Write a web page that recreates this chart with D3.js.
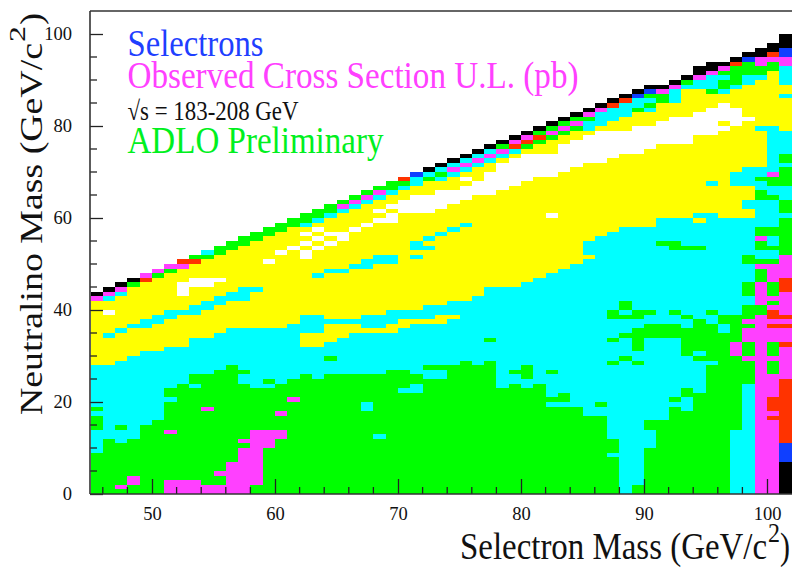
<!DOCTYPE html>
<html>
<head>
<meta charset="utf-8">
<script src="https://cdn.jsdelivr.net/npm/d3@7"></script>
<style>
  html, body { margin: 0; background: #fff; }
  svg { display: block; font-family: "Liberation Serif", serif; }
</style>
</head>
<body>
<div id="chart"></div>
<script>
// selectron mass bins, one GeV wide, 45 to 101
const selectronMass = [45,46,47,48,49,50,51,52,53,54,55,56,57,58,59,60,61,62,63,64,65,66,67,68,69,
  70,71,72,73,74,75,76,77,78,79,80,81,82,83,84,85,86,87,88,89,90,91,92,93,94,95,96,97,98,99,100,101]

// each entry is one mass column, read bottom to top: level letter + neutralino mass where it stops
const columnRuns = [
  'g9 c14 g17 c18 g19 c28 y42 m43 k44',
  'g12 c28 y34 c35 y39 w40 y42 c43 m44 k45',
  'g1 m2 g11 c14 g15 c29 y35 c36 y43 c44 m45 k46',
  'g2 m4 g12 c30 y36 c37 y45 g46 k47',
  'g15 c31 y36 c38 y46 r47 m48',
  'g16 c31 y37 c39 y47 g48 m49',
  'm3 g13 m14 g20 c21 g23 c32 y38 c40 y48 g49 m50',
  'm3 g24 c32 y39 c40 y43 w46 y49 m50 r51',
  'm3 g23 c24 g26 c34 y39 c41 y45 w47 y50 r51 g52',
  'm2 g18 m19 g26 c34 y40 c42 y45 w47 y51 g52 c53',
  'm2 g4 m5 g27 c35 y41 c43 y46 w47 y52 g54',
  'm7 g28 c36 y42 c44 y53 g55',
  'm10 g11 m12 g24 c26 g27 c36 y42 c45 y54 g56',
  'g2 m14 g23 c36 y44 c45 y55 g57',
  'g10 m14 g23 c24 g25 c36 y50 w51 y56 g58',
  'g12 m14 g17 m18 g24 c36 y52 w53 y57 g59',
  'g20 m21 g25 c37 y53 w54 y58 g60',
  'g26 c32 y35 c39 y51 w53 y54 w55 y56 w57 y58 c59 g61',
  'g25 c32 y35 c39 y47 c48 y53 w54 y55 w56 y57 w58 y59 c60 g62',
  'g26 c29 g30 c33 y37 c38 y48 c49 y54 w55 y56 w57 y60 c61 g63',
  'g26 c34 y37 c38 y48 c49 y55 w57 y61 c62 m63 g64',
  'g26 c35 y37 c38 y49 c50 y57 w58 y62 c63 m64 g65',
  'g18 c20 g26 c35 y36 c39 y49 c51 y58 w59 y63 c64 m65 g66',
  'g12 c13 g26 c35 y36 c39 y50 c52 y59 w60 y61 w62 y64 c65 m66 g67',
  'g27 c35 y37 c40 y50 c52 y59 w61 y62 w63 y65 c66 g68',
  'g22 c23 g27 c36 y38 c40 y61 w64 y66 c67 g68 r69',
  'g22 c24 g26 c37 y38 c40 y51 c52 y53 c55 y61 w65 y67 c69 b70',
  'g25 c27 g28 c37 y38 c41 y53 c54 y55 c56 y61 w65 y68 g69 c70 k71',
  'g25 c27 g28 c37 y39 c41 y56 c57 y62 w66 y68 c69 g70 c71 k72',
  'g28 c38 y39 c42 y57 c58 y63 w66 y69 c70 m71 c72 k73',
  'g29 c42 y58 c59 y64 w67 y68 w69 y70 c71 m72 c73 k74',
  'g28 c43 y65 w68 y71 c72 m73 c74 k75',
  'g29 c33 g34 c45 y65 w70 y72 c73 m74 c75 k76',
  'g23 c45 y66 w72 y73 c74 m75 g76 k77',
  'g24 c26 g27 c45 y67 w73 y74 c75 r76 m77 k78',
  'g23 c25 g28 c46 y68 w74 y75 g76 r77 m78 k79',
  'g24 c47 y69 w74 y76 g77 r78 g79 k80',
  'g19 c20 g21 c26 g27 c48 y60 w61 y69 w74 y77 g78 m79 g80 k81',
  'g19 c20 g22 c49 y70 w76 y78 g79 m80 g81 k82',
  'g19 c50 y71 w77 y79 g80 m81 g82 k83',
  'g17 c51 y52 c55 y72 w78 y79 c81 g82 m83 k84',
  'g17 c19 g20 c56 y72 w79 y80 c83 m84 k85',
  'g8 c9 g12 c28 g29 c33 g34 c38 g40 c57 y73 w79 y81 c84 r85 k86',
  'c29 g30 c34 g35 c38 g39 c40 g42 c58 y74 w79 y82 c85 r86 k87',
  'g2 c28 g29 c31 g36 c38 g40 c58 y74 w80 y83 g84 c86 b87 k88',
  'g10 c14 g16 c34 g37 c39 g40 c58 y75 w80 y83 c84 g85 c86 g87 b88 k89',
  'g16 c34 g37 c54 g55 c60 y76 w81 y85 g87 m88 k89',
  'g19 c20 g21 c34 g37 c39 g40 c53 g55 c60 y76 w82 y85 c88 m89 k90',
  'g18 c21 g23 c30 g36 c38 g39 c53 g54 c60 y76 w82 y88 c89 g90 k91',
  'g22 c29 g30 c31 g38 c53 g54 c59 y60 c61 y78 w83 y88 c90 m91 k93',
  'g28 c29 g37 c39 g40 c61 y67 c68 y78 w84 y87 g88 c91 m92 k94',
  'g35 c37 g39 c60 y79 w80 y81 w85 y87 c88 g90 c91 g92 m93 k94',
  'c14 g30 m33 g39 c60 y67 c70 y80 w84 y88 c89 g93 r94 k95',
  'c24 g29 m30 g33 m36 g37 m38 g41 c43 g46 c50 g52 c60 y62 c64 y67 c71 y81 w82 y89 c91 g94 b95 k96',
  'm39 g41 m46 g49 m50 g51 c53 g55 m56 g58 c64 g66 c68 g69 c71 y79 c80 y90 c91 g93 m95 k97',
  'm16 r17 m18 r21 m26 g29 m30 g33 m36 r37 m38 r40 m41 g42 m43 g46 m50 g51 c53 g54 c56 g58 c64 g65 c67 g69 m70 c80 y92 g94 m95 r96 k98',
  'k7 b11 r25 m32 r33 m36 r37 m38 r39 m44 r47 m52 g60 c61 g64 c67 g71 c72 g74 c79 y86 c87 y89 c93 m95 b97 k100'
]

const levels = ['w', 'y', 'c', 'g', 'm', 'r', 'b', 'k']
const levelColors = ['#ffffff', '#ffff00', '#00ffff', '#00ff00', '#ff40ff', '#ff3300', '#0f3fff', '#000000']

const xMajorTicks = [50, 60, 70, 80, 90, 100]
const yMajorTicks = [0, 20, 40, 60, 80, 100]

const width = 793, height = 569

const x = d3.scaleLinear().domain([45, 102]).range([90.5, 791.6])
const y = d3.scaleLinear().domain([0, 105]).range([494, 11])
const color = d3.scaleOrdinal().domain(levels).range(levelColors)

const svg = d3.select('#chart').append('svg')
  .attr('width', width)
  .attr('height', height)

// turn 'g9 c14 ...' into cells
const cells = []
selectronMass.forEach(function(m, i) {
  let bottom = 0
  columnRuns[i].split(' ').forEach(function(run) {
    const top = +run.slice(1)
    cells.push({ mass: m, level: run[0], bottom: bottom, top: top })
    bottom = top
  })
})

svg.append('g')
  .attr('shape-rendering', 'crispEdges')
  .selectAll('rect')
  .data(cells)
  .enter()
  .append('rect')
  .attr('x', d => x(d.mass))
  .attr('y', d => y(d.top))
  .attr('width', d => x(d.mass + 1) - x(d.mass))
  .attr('height', d => y(d.bottom) - y(d.top))
  .attr('fill', d => color(d.level))

// axes, ROOT style: ticks point into the frame
const xAxis = d3.axisBottom(x).tickValues(xMajorTicks).tickSize(-15).tickPadding(13).tickFormat(d3.format('d'))
const yAxis = d3.axisLeft(y).tickValues(yMajorTicks).tickSize(-13).tickPadding(18).tickFormat(d3.format('d'))

const gx = svg.append('g').attr('transform', 'translate(0,494)').call(xAxis)
const gy = svg.append('g').attr('transform', 'translate(90,0)').call(yAxis)

gx.append('g').selectAll('line')
  .data(d3.range(46, 102, 2).filter(d => d % 10 !== 0))
  .enter().append('line')
  .attr('x1', d => x(d)).attr('x2', d => x(d))
  .attr('y1', 0).attr('y2', -7)

gy.append('g').selectAll('line')
  .data(d3.range(5, 105, 5).filter(d => d % 20 !== 0))
  .enter().append('line')
  .attr('y1', d => y(d)).attr('y2', d => y(d))
  .attr('x1', 0).attr('x2', 7)

svg.selectAll('.domain').remove()
svg.selectAll('line').attr('stroke', '#222').attr('stroke-width', 1.3)
svg.selectAll('.tick text')
  .attr('fill', '#111')
  .style('font-family', '"Liberation Serif", serif')
  .style('font-size', '18.5px')

// frame
const frame = svg.append('g').attr('stroke', '#333').attr('stroke-width', 1.6)
frame.append('line').attr('x1', 90).attr('x2', 792).attr('y1', 11).attr('y2', 11)
frame.append('line').attr('x1', 90).attr('x2', 90).attr('y1', 11).attr('y2', 494)
frame.append('line').attr('x1', 90).attr('x2', 792).attr('y1', 494).attr('y2', 494)

// labels inside the plot
const notes = [
  { text: 'Selectrons', y: 56, size: 38, len: 136, fill: '#1f3fff' },
  { text: 'Observed Cross Section U.L. (pb)', y: 88, size: 38, len: 451, fill: '#ff40ff' },
  { text: '√s = 183-208 GeV', y: 120, size: 27, len: 171, fill: '#111111' },
  { text: 'ADLO Preliminary', y: 153, size: 38, len: 256, fill: '#00f020' }
]
svg.append('g').selectAll('text')
  .data(notes)
  .enter()
  .append('text')
  .attr('x', 127.5)
  .attr('y', d => d.y)
  .attr('font-size', d => d.size)
  .attr('fill', d => d.fill)
  .attr('textLength', d => d.len)
  .attr('lengthAdjust', 'spacingAndGlyphs')
  .text(d => d.text)

// axis titles: the text is stretched in the original, and the exponent sits apart
const titleParts = [
  { text: 'Selectron Mass (GeV/c', at: [460, 559], rot: 0, size: 38, len: 307 },
  { text: '2', at: [768, 542], rot: 0, size: 27, len: 12 },
  { text: ')', at: [780, 559], rot: 0, size: 38, len: 10 },
  { text: 'Neutralino Mass (GeV/c', at: [42, 415], rot: -90, size: 32, len: 372 },
  { text: '2', at: [25, 42], rot: -90, size: 24, len: 16 },
  { text: ')', at: [42, 25], rot: -90, size: 32, len: 12 }
]
svg.append('g').selectAll('text')
  .data(titleParts)
  .enter()
  .append('text')
  .attr('transform', d => 'translate(' + d.at[0] + ',' + d.at[1] + ') rotate(' + d.rot + ')')
  .attr('font-size', d => d.size)
  .attr('fill', '#111')
  .attr('textLength', d => d.len)
  .attr('lengthAdjust', 'spacingAndGlyphs')
  .text(d => d.text)
</script>
</body>
</html>
